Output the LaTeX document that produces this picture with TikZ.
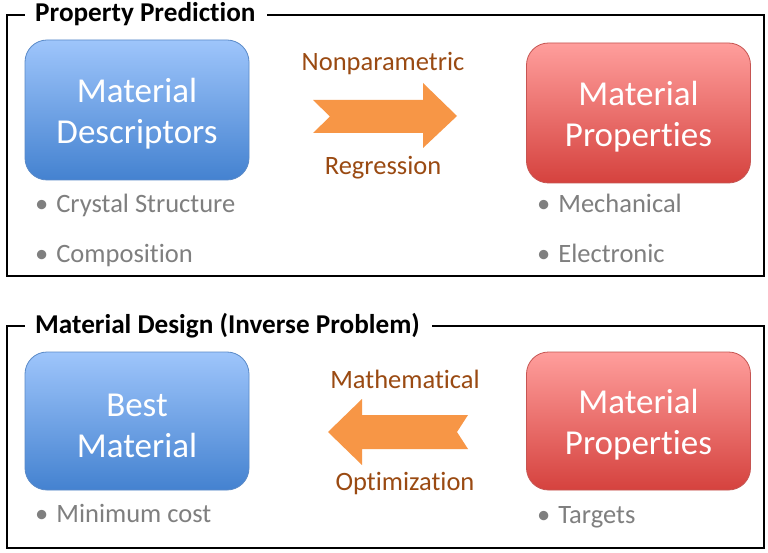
\documentclass[tikz,border=0pt]{standalone}
\usepackage{fontspec}
\setmainfont{Carlito}[Ligatures=NoCommon]
\definecolor{frameblack}{HTML}{000000}
\definecolor{bluetop}{HTML}{9EC5FB}
\definecolor{bluebot}{HTML}{4482D0}
\definecolor{blueedge}{HTML}{5A8AC8}
\definecolor{redtop}{HTML}{FF9E9C}
\definecolor{redbot}{HTML}{D5423E}
\definecolor{rededge}{HTML}{C65552}
\definecolor{bullgrey}{HTML}{7F7F7F}
\definecolor{arroworange}{HTML}{F79646}
\definecolor{labelbrown}{HTML}{9A4A12}
\newcommand{\upstrut}{\rule{0pt}{32pt}}
\tikzset{
  bluebox/.style={draw=blueedge, line width=0.8pt, rounded corners=22pt, top color=bluetop, bottom color=bluebot,
    minimum width=224pt, minimum height=140pt, inner sep=0pt, text=white, align=center,
    font=\fontsize{35}{41}\selectfont},
  redbox/.style={bluebox, draw=rededge, top color=redtop, bottom color=redbot},
  bullet/.style={anchor=base west, text=bullgrey, inner sep=0pt, font=\fontsize{26.5}{30}\selectfont},
  arrlabel/.style={anchor=base, text=labelbrown, inner sep=0pt, font=\fontsize{26.5}{30}\selectfont},
  frametitle/.style={anchor=base west, inner sep=0pt, font=\fontsize{27.2}{30}\selectfont\bfseries},
  frameline/.style={draw=frameblack, line width=1.2pt},
  blockarrow/.style={fill=arroworange, draw=none}
}
\begin{document}
\begin{tikzpicture}[x=1pt,y=-1pt]
\useasboundingbox (0,0) rectangle (768,553);
\fill[white] (0,0) rectangle (768,553);

% ---- top frame ----
\node[frametitle] (t1) at (35,22) {Property Prediction};
\coordinate (f1a) at (267,15);
\coordinate (f1b) at (25,15);
\draw[frameline] (f1a) -- (764,15) -- (764,276) -- (7,276) -- (7,15) -- (f1b);

\node[bluebox] (desc) at (137,110) {\upstrut Material\\Descriptors};
\node[redbox] (prop1) at (638.5,113) {\upstrut Material\\Properties};

\node[bullet] (b1) at (35,213) {•\hspace{8pt}Crystal Structure};
\node[bullet] (b2) at (35,263) {•\hspace{8pt}Composition};
\node[bullet] (b3) at (537,213) {•\hspace{8pt}Mechanical};
\node[bullet] (b4) at (537,263) {•\hspace{8pt}Electronic};

\fill[blockarrow] (313,100) -- (423,100) -- (423,83) -- (457,116) -- (423,148) -- (423,133) -- (313,133) -- (330,116.5) -- cycle;
\node[arrlabel] (l1) at (383,71) {Nonparametric};
\node[arrlabel] (l2) at (383,175) {Regression};

% ---- bottom frame ----
\node[frametitle] (t2) at (35,333) {Material Design (Inverse Problem)};
\coordinate (f2a) at (432,326);
\coordinate (f2b) at (25,326);
\draw[frameline] (f2a) -- (764,326) -- (764,548) -- (7,548) -- (7,326) -- (f2b);

\node[bluebox, minimum height=138pt] (best) at (137,421) {\upstrut Best\\Material};
\node[redbox, minimum height=138pt] (prop2) at (638.5,421) {\upstrut Material\\Properties};

\node[bullet] (b5) at (35,522) {•\hspace{8pt}Minimum cost};
\node[bullet] (b6) at (537,523) {•\hspace{8pt}Targets};

\fill[blockarrow] (328,432) -- (362,399) -- (362,415) -- (468,415) -- (457,432) -- (468,449) -- (362,449) -- (362,465) -- cycle;
\node[arrlabel] (l3) at (405,388) {Mathematical};
\node[arrlabel] (l4) at (405,490) {Optimization};
\end{tikzpicture}
\end{document}
